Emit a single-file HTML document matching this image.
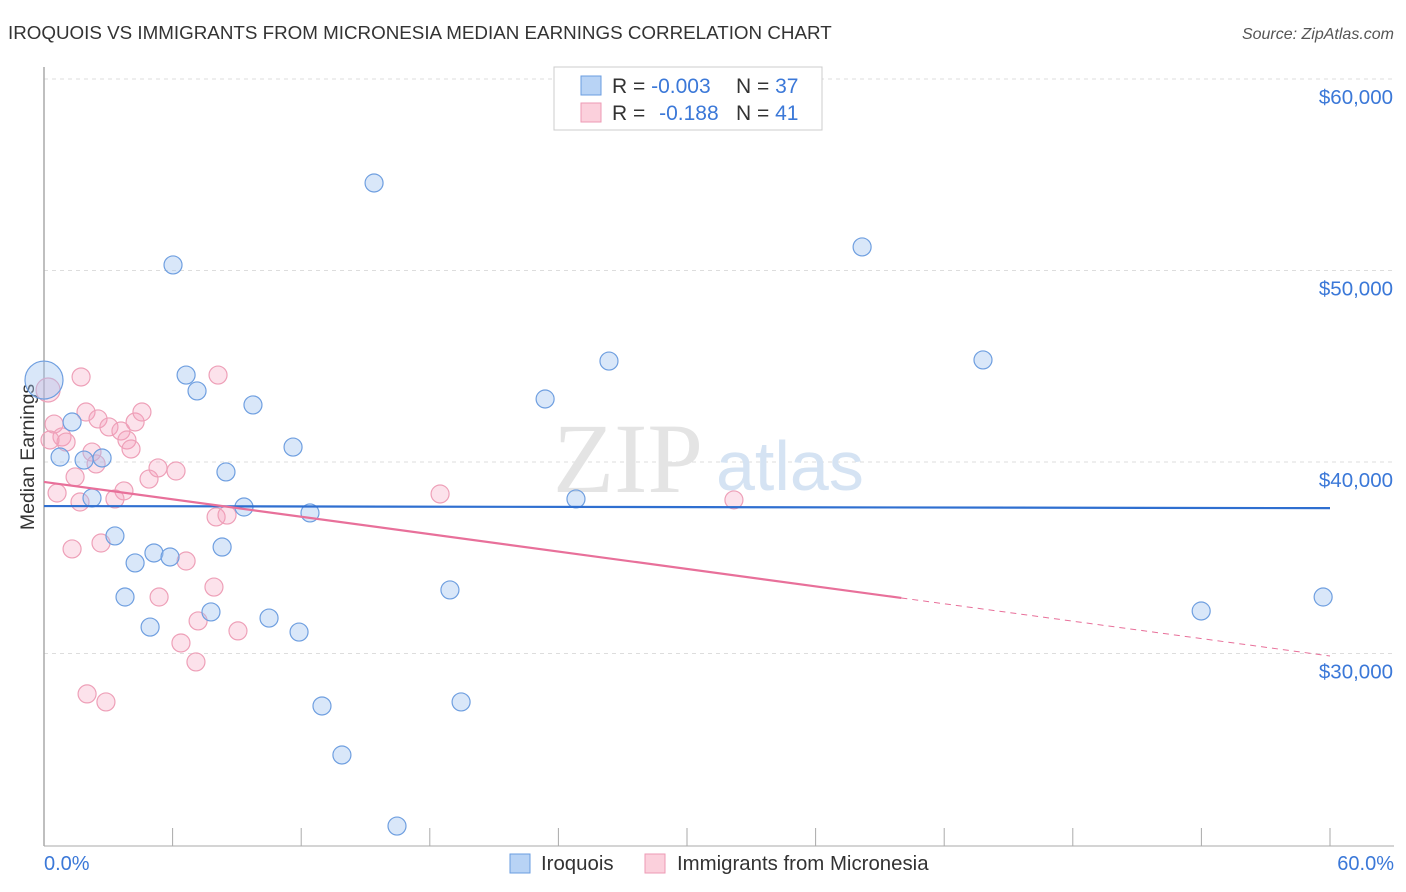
<!DOCTYPE html>
<html><head><meta charset="utf-8"><style>
body{margin:0;background:#fff;font-family:"Liberation Sans",sans-serif;}
svg{display:block}
</style></head><body>
<svg id="chart" width="1406" height="892">
<text x="8" y="39" font-size="18.8" fill="#333">IROQUOIS VS IMMIGRANTS FROM MICRONESIA MEDIAN EARNINGS CORRELATION CHART</text>
<text x="1394" y="39" font-size="16" fill="#555" font-style="italic" text-anchor="end">Source: ZipAtlas.com</text>
<g id="grid"></g>
<g id="yticks"></g>
<g id="xticks"></g>
<text x="553" y="492" font-size="100" fill="#e4e4e4" font-family="Liberation Serif,serif">ZIP</text>
<text x="716" y="490" font-size="70" fill="#d5e3f3">atlas</text>
<line x1="44" y1="67" x2="44" y2="846" stroke="#aaa" stroke-width="1.5"/>
<line x1="44" y1="846" x2="1394" y2="846" stroke="#aaa" stroke-width="1"/>
<text transform="translate(34,457) rotate(-90)" font-size="19.5" fill="#333" text-anchor="middle">Median Earnings</text>
<text x="44" y="870" font-size="20" fill="#3b78d8">0.0%</text>
<text x="1394" y="870" font-size="20" fill="#3b78d8" text-anchor="end">60.0%</text>
<g id="pinkpts"></g>
<g id="bluepts"></g>
<g id="trends"></g>
<g>
<rect x="554" y="67" width="268" height="63" fill="#fff" stroke="#ccc"/>
<rect x="581" y="76" width="20" height="19" fill="#b8d3f5" stroke="#6a9de0"/>
<rect x="581" y="103" width="20" height="19" fill="#fbd0dc" stroke="#ee9ab4"/>
<text x="612" y="93" font-size="21" fill="#333">R = <tspan fill="#3b78d8">-0.003</tspan></text>
<text x="736" y="93" font-size="21" fill="#333">N = <tspan fill="#3b78d8">37</tspan></text>
<text x="612" y="120" font-size="21" fill="#333">R = <tspan fill="#3b78d8" dx="8">-0.188</tspan></text>
<text x="736" y="120" font-size="21" fill="#333">N = <tspan fill="#3b78d8">41</tspan></text>
</g>
<g>
<rect x="510" y="854" width="20" height="19" fill="#b8d3f5" stroke="#6a9de0"/>
<text x="541" y="870" font-size="20.4" fill="#333">Iroquois</text>
<rect x="645" y="854" width="20" height="19" fill="#fbd0dc" stroke="#ee9ab4"/>
<text x="677" y="870" font-size="20.4" fill="#333">Immigrants from Micronesia</text>
</g>
</svg>
<script>
const yTickValues=[30000,40000,50000,60000];
const xTickValues=[0,6,12,18,24,30,36,42,48,54,60];
const blueX=[0,1.31,0.75,1.87,2.71,2.24,3.31,4.25,3.78,5.13,5.88,4.95,6.02,6.63,7.14,8.49,9.75,9.33,8.31,7.79,10.5,11.9,11.62,12.41,12.97,13.9,15.4,16.47,18.94,19.46,23.38,24.82,26.36,38.17,43.81,53.99,59.68];
const blueY=[44280,42090,40260,40100,40210,38120,36140,34730,32950,35250,35040,31380,50290,44540,43710,39480,42980,37650,35560,32170,31850,31120,40780,37340,27260,24700,54570,20990,33320,27470,43290,38070,45270,51230,45330,32220,32950];
const pinkX=[1.73,8.12,0.19,0.47,1.96,2.52,3.03,3.59,3.87,4.06,4.25,4.57,0.84,1.03,0.28,2.24,2.43,1.45,0.61,1.68,3.73,3.31,4.9,5.32,6.16,8.03,8.54,1.31,2.66,6.63,7.93,5.37,7.19,9.05,6.39,7.09,2.01,2.89,18.48,32.19];
const pinkY=[44440,44540,43760,41980,42610,42250,41830,41620,41150,40680,42090,42610,41310,41040,41150,40520,39900,39220,38380,37910,38490,38070,39110,39690,39530,37130,37230,35460,35770,34830,33470,32950,31700,31180,30550,29560,27890,27470,38330,38020];
const blueTrend=[37700,37590];
const pinkTrend=[38960,29870];
const pinkSolidEnd=40;
const NS="http://www.w3.org/2000/svg";
function xs(v){return 44+v/60*1286;}
function ys(v){return 79+(60000-v)/10000*191.5;}
function mk(t,a,p){const e=document.createElementNS(NS,t);for(const k in a)e.setAttribute(k,a[k]);p.appendChild(e);return e;}
const grid=document.getElementById('grid'),yt=document.getElementById('yticks'),xt=document.getElementById('xticks');
yTickValues.forEach(v=>{
 const l=mk('line',{x1:44,x2:1394,y1:ys(v),y2:ys(v),stroke:'#ddd','stroke-dasharray':'4,4'},grid);
 
 
 const t=mk('text',{x:1393,y:ys(v)+25,'font-size':20.5,fill:'#3b78d8','text-anchor':'end'},yt);
 t.textContent='$'+v.toLocaleString('en-US');
 
 
});
xTickValues.forEach(v=>{
 const l=mk('line',{x1:xs(v),x2:xs(v),y1:828,y2:846,stroke:'#aaa'},xt);
 
 
});
const pp=document.getElementById('pinkpts'),bp=document.getElementById('bluepts');
pinkX.forEach((x,i)=>{
 const c=mk('circle',{cx:xs(x),cy:ys(pinkY[i]),r:i==2?12:9,fill:'rgba(244,160,188,0.3)',stroke:'#eea0b8','stroke-width':1.2},pp);
 
 
});
blueX.forEach((x,i)=>{
 const c=mk('circle',{cx:xs(x),cy:ys(blueY[i]),r:i==0?19:9,fill:'rgba(160,196,240,0.4)',stroke:'#6f9fe0','stroke-width':1.2},bp);
 
 
});
const tr=document.getElementById('trends');
const bl=mk('line',{x1:xs(0),y1:ys(blueTrend[0]),x2:xs(60),y2:ys(blueTrend[1]),stroke:'#2f6fd0','stroke-width':2.2},tr);


const pmid=pinkTrend[0]+(pinkTrend[1]-pinkTrend[0])*pinkSolidEnd/60;
const ps=mk('line',{x1:xs(0),y1:ys(pinkTrend[0]),x2:xs(pinkSolidEnd),y2:ys(pmid),stroke:'#e8709a','stroke-width':2.2},tr);


const pd=mk('line',{x1:xs(pinkSolidEnd),y1:ys(pmid),x2:xs(60),y2:ys(pinkTrend[1]),stroke:'#e8709a','stroke-width':1,'stroke-dasharray':'6,5'},tr);


</script>
</body></html>
